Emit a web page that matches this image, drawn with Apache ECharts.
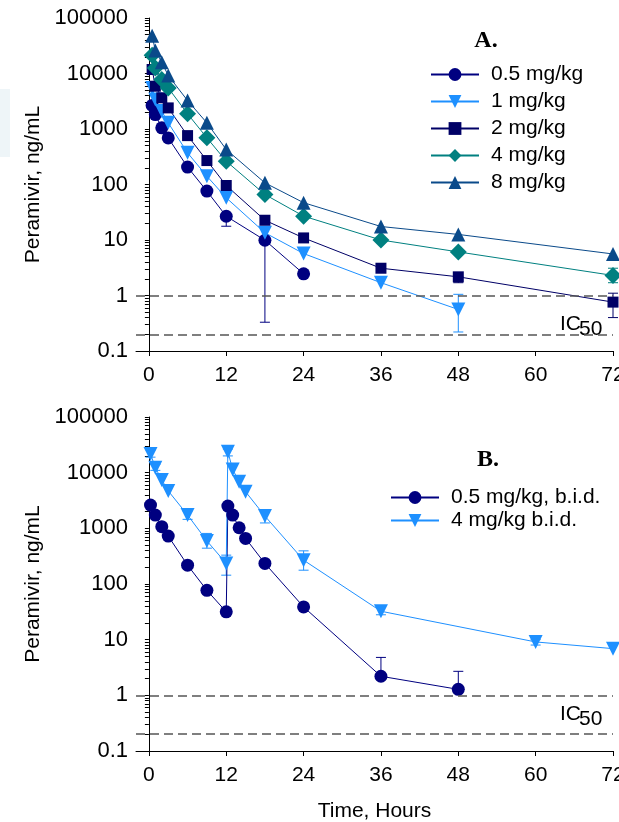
<!DOCTYPE html>
<html>
<head>
<meta charset="utf-8">
<script src="https://cdn.jsdelivr.net/npm/echarts@6/dist/echarts.min.js"></script>
<style>
  html, body { margin: 0; padding: 0; background: #fff; }
  #chart { width: 619px; height: 822px; }
</style>
</head>
<body>
<div id="chart"></div>
<script>
// time points (hours)
var timesA = [0.5, 1, 2, 3, 6, 9, 12, 18, 24, 36, 48, 72];
var timesB05 = [0.25, 1, 2, 3, 6, 9, 12, 12.25, 13, 14, 15, 18, 24, 36, 48];
var timesB4 = [0.25, 1, 2, 3, 6, 9, 12, 12.25, 13, 14, 15, 18, 24, 36, 60, 72];

// panel A - single dose, ng/mL
var c05A = [2660, 1820, 1050, 690, 206, 76, 26.8, 9.9, 2.46];
var c1A = [5500, 3400, 2100, 1290, 372, 141, 57.6, 13.5, 5.7, 1.7, 0.56];
var c2A = [11800, 5900, 3650, 2400, 760, 270, 96, 22.7, 10.9, 3.1, 2.17, 0.76];
var c4A = [21300, 12600, 7800, 5500, 1880, 693, 263, 66, 26.9, 10, 6.1, 2.3];
var c8A = [48000, 26000, 15900, 9200, 3250, 1290, 427, 107, 47, 17.5, 12.6, 5.6];

// panel B - b.i.d.
var c05B = [2620, 1730, 1070, 725, 218, 77, 31.6, 2510, 1730, 1025, 660, 234, 38.7, 2.2, 1.28];
var c4B = [21700, 12300, 7400, 4700, 1740, 594, 234, 23800, 11400, 6900, 4550, 1660, 268, 32.4, 9.1, 6.9];

// error bars [time, low, high]
var err05A = [[12, 17.7, 26.8], [18, 0.33, 9.9]];
var err1A = [[48, 0.22, 1.05]];
var err2A = [[48, 1.7, 2.17], [72, 0.4, 1.1]];
var err4A = [[72, 1.7, 3.1]];
var err05B = [[36, 2.2, 4.8], [48, 1.28, 2.7]];
var err4B = [[0.25, 19000, 25500], [1, 11000, 14000], [6, 1450, 2050], [9, 440, 810], [12, 144, 330],
             [12.25, 20000, 26500], [18, 1250, 2050], [24, 177, 394], [36, 28, 38], [60, 8, 10]];

var namesA = ['0.5 mg/kg', '1 mg/kg', '2 mg/kg', '4 mg/kg', '8 mg/kg'];
var namesB = ['0.5 mg/kg, b.i.d.', '4 mg/kg b.i.d.'];

var xTicks = [0, 12, 24, 36, 48, 60, 72];
var yLabels = [0.1, 1, 10, 100, 1000, 10000, 100000];
var icLevels = [1, 0.2];

var colors = {c05: '#000080', c1: '#1e90ff', c2: '#000066', c4: '#008080', c8: '#0a4a8a'};
var FONT = '"Liberation Sans", Arial, sans-serif';
var invTri = 'path://M0,0 L10,0 L5,9 Z';

// minor ticks of the log axis
var yTicks = [];
yLabels.forEach(function (d) {
  for (var k = 1; k <= 9; k++) {
    if (d * k <= 100000) yTicks.push(+(d * k).toPrecision(2));
  }
});

var byId = function (id) {
  return document.getElementById(id);
};

function pairs(times, vals) {
  return vals.map(function (v, i) { return [times[i], v]; });
}

function xAxisOpt(idx, withName) {
  return {
    type: 'value', gridIndex: idx, min: -2, max: 72,
    name: withName ? 'Time, Hours' : '', nameLocation: 'middle', nameGap: 50,
    nameTextStyle: {fontSize: 21, fontFamily: FONT, color: '#000'},
    axisLine: {show: true, onZero: false, lineStyle: {color: '#000', width: 1}},
    axisTick: {show: true, inside: false, length: 5, customValues: xTicks, lineStyle: {color: '#000'}},
    axisLabel: {customValues: xTicks, fontSize: 21, fontFamily: FONT, color: '#000', margin: 14},
    splitLine: {show: false}
  };
}

function yAxisOpt(idx) {
  return {
    type: 'log', logBase: 10, gridIndex: idx, min: 0.1, max: 100000,
    name: 'Peramivir, ng/mL', nameLocation: 'middle', nameGap: 84, nameRotate: 90,
    nameTextStyle: {fontSize: 21, fontFamily: FONT, color: '#000'},
    axisLine: {show: true, lineStyle: {color: '#000', width: 1}},
    axisTick: {show: true, inside: false, length: 4, customValues: yTicks, lineStyle: {color: '#000'}},
    axisLabel: {
      customValues: yLabels, fontSize: 22, fontFamily: FONT, color: '#000', margin: 8,
      formatter: function (v) { return v < 1 ? v.toFixed(1) : String(Math.round(v)); }
    },
    splitLine: {show: false}
  };
}

function lineSeries(name, idx, data, color, symbol, size) {
  return {
    name: name, type: 'line', xAxisIndex: idx, yAxisIndex: idx, data: data,
    symbol: symbol, symbolSize: size, showSymbol: true,
    itemStyle: {color: color},
    lineStyle: {color: color, width: 1},
    z: 3
  };
}

function errSeries(idx, data, color) {
  return {
    type: 'custom', xAxisIndex: idx, yAxisIndex: idx, data: data, z: 2, silent: true,
    encode: {x: 0, y: [1, 2]},
    renderItem: function (params, api) {
      var lo = api.coord([api.value(0), api.value(1)]);
      var hi = api.coord([api.value(0), api.value(2)]);
      var w = 5;
      var st = {stroke: color, lineWidth: 1};
      return {
        type: 'group',
        children: [
          {type: 'line', shape: {x1: lo[0], y1: lo[1], x2: hi[0], y2: hi[1]}, style: st},
          {type: 'line', shape: {x1: lo[0] - w, y1: lo[1], x2: lo[0] + w, y2: lo[1]}, style: st},
          {type: 'line', shape: {x1: hi[0] - w, y1: hi[1], x2: hi[0] + w, y2: hi[1]}, style: st}
        ]
      };
    }
  };
}

function icLine(idx) {
  return {
    type: 'line', xAxisIndex: idx, yAxisIndex: idx, data: [], silent: true,
    markLine: {
      silent: true, symbol: 'none', label: {show: false},
      lineStyle: {color: '#555', type: [9, 5], width: 1.5},
      data: icLevels.map(function (v) { return {yAxis: v}; })
    }
  };
}

function legendOpt(names, left, top, gap) {
  return {
    data: names, orient: 'vertical', left: left, top: top, padding: 0,
    itemWidth: 48, itemHeight: 16, itemGap: gap,
    textStyle: {fontSize: 21, fontFamily: FONT, color: '#000', lineHeight: 20, padding: [0, 0, 0, 7]}
  };
}

var chart = echarts.init(byId('chart'), null, {renderer: 'canvas'});
chart.setOption({
  animation: false,
  backgroundColor: '#fff',
  grid: [
    {left: 136, top: 18, width: 477, height: 333, outerBoundsMode: 'none'},
    {left: 136, top: 417, width: 477, height: 334, outerBoundsMode: 'none'}
  ],
  xAxis: [xAxisOpt(0, false), xAxisOpt(1, true)],
  yAxis: [yAxisOpt(0), yAxisOpt(1)],
  legend: [legendOpt(namesA, 430, 64, 6), legendOpt(namesB, 390, 487, 2)],
  graphic: [
    {type: 'rect', shape: {x: 0, y: 89, width: 10, height: 68}, style: {fill: '#eef5f8'}, silent: true},
    {type: 'text', style: {x: 486, y: 41, text: 'A.', font: 'bold 24px "Liberation Serif", serif', fill: '#000', align: 'center', verticalAlign: 'middle'}},
    {type: 'text', style: {x: 488, y: 460, text: 'B.', font: 'bold 24px "Liberation Serif", serif', fill: '#000', align: 'center', verticalAlign: 'middle'}},
    {type: 'text', style: {x: 560, y: 324, text: 'IC', font: '21px "Liberation Sans", Arial', fill: '#000', verticalAlign: 'middle'}},
    {type: 'text', style: {x: 579, y: 329, text: '50', font: '21px "Liberation Sans", Arial', fill: '#000', verticalAlign: 'middle'}},
    {type: 'text', style: {x: 560, y: 714, text: 'IC', font: '21px "Liberation Sans", Arial', fill: '#000', verticalAlign: 'middle'}},
    {type: 'text', style: {x: 579, y: 719, text: '50', font: '21px "Liberation Sans", Arial', fill: '#000', verticalAlign: 'middle'}}
  ],
  series: [
    icLine(0),
    icLine(1),
    errSeries(0, err05A, colors.c05),
    errSeries(0, err1A, colors.c1),
    errSeries(0, err2A, colors.c2),
    errSeries(0, err4A, colors.c4),
    errSeries(1, err05B, colors.c05),
    errSeries(1, err4B, colors.c1),
    lineSeries(namesA[0], 0, pairs(timesA, c05A), colors.c05, 'circle', 13),
    lineSeries(namesA[1], 0, pairs(timesA, c1A), colors.c1, invTri, 14),
    lineSeries(namesA[2], 0, pairs(timesA, c2A), colors.c2, 'rect', 11),
    lineSeries(namesA[3], 0, pairs(timesA, c4A), colors.c4, 'diamond', 17),
    lineSeries(namesA[4], 0, pairs(timesA, c8A), colors.c8, 'triangle', 14),
    lineSeries(namesB[0], 1, pairs(timesB05, c05B), colors.c05, 'circle', 13),
    lineSeries(namesB[1], 1, pairs(timesB4, c4B), colors.c1, invTri, 14)
  ]
});
</script>
</body>
</html>
